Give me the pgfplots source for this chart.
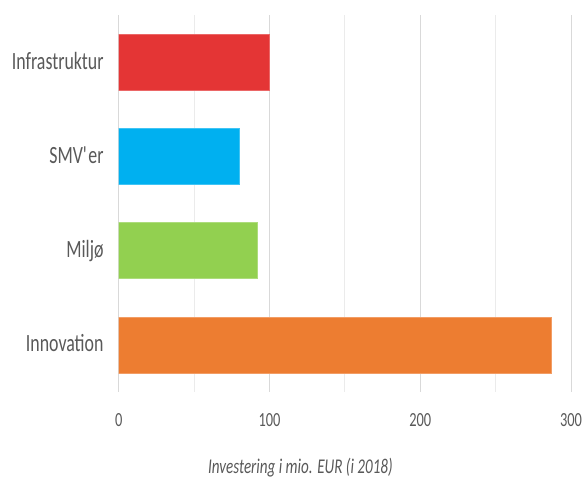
\documentclass[border=0pt]{standalone}
\usepackage{fontspec}
\setmainfont{Carlito}[FakeStretch=0.72]
\usepackage{pgfplots}
\pgfplotsset{compat=1.18}
\definecolor{txt}{HTML}{595959}
\definecolor{gridmaj}{HTML}{D9D9D9}
\definecolor{gridmin}{HTML}{EBEBEB}
\definecolor{cred}{HTML}{E43535}
\definecolor{cblue}{HTML}{00B0F0}
\definecolor{cgreen}{HTML}{92D050}
\definecolor{corange}{HTML}{ED7D31}
\begin{document}
\begin{tikzpicture}
\useasboundingbox (0,0) rectangle (585bp,479bp);
\begin{axis}[
  at={(118.7bp,87bp)}, anchor=south west,
  scale only axis, width=452.3bp, height=377bp,
  xmin=0, xmax=300, ymin=-0.5, ymax=3.5, y dir=reverse,
  xbar, bar width=56bp, bar shift=0pt,
  xtick={0,100,200,300}, minor xtick={50,150,250},
  ytick={0,1,2,3}, yticklabels={Infrastruktur,SMV\textquotesingle er,Miljø,Innovation},
  axis line style={draw=none}, major tick length=0, minor tick length=0,
  xmajorgrids, xminorgrids, ymajorgrids=false,
  major grid style={color=gridmaj, line width=1bp},
  minor grid style={color=gridmin, line width=1bp},
  /pgf/number format/assume math mode=true,
  xticklabel style={font=\fontsize{20bp}{20bp}\selectfont, text=txt, anchor=base, yshift=-34bp, inner sep=0pt},
  yticklabel style={font=\fontsize{24.8bp}{24.8bp}\selectfont, text=txt, anchor=base east, inner sep=0pt, xshift=-15bp, yshift=-7bp},
]
\addplot[fill=cred, draw=cred!75!white, line width=0.6bp] coordinates {(100,0)};
\addplot[fill=cblue, draw=cblue!75!white, line width=0.6bp] coordinates {(80,1)};
\addplot[fill=cgreen, draw=cgreen!75!white, line width=0.6bp] coordinates {(92,2)};
\addplot[fill=corange, draw=corange!75!white, line width=0.6bp] coordinates {(287,3)};
\end{axis}
\node[anchor=base, inner sep=0pt, text=txt, font=\fontsize{21bp}{21bp}\selectfont\itshape] at (300.4bp,6bp) {Investering i mio. EUR (i 2018)};
\end{tikzpicture}
\end{document}
